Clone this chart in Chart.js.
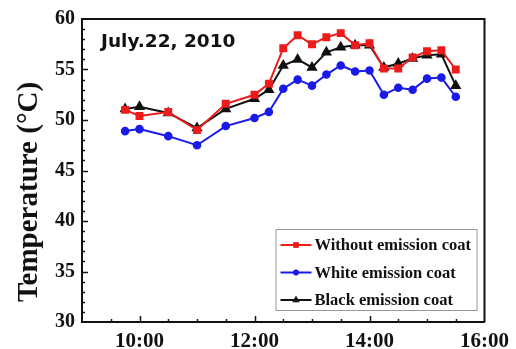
<!DOCTYPE html>
<html>
<head>
<meta charset="utf-8">
<script src="https://cdn.jsdelivr.net/npm/chart.js@4.4.1/dist/chart.umd.min.js"></script>
<style>
  html, body { margin: 0; padding: 0; background: #fff; }
  #wrap { width: 516px; height: 349px; }
</style>
</head>
<body>
<div id="wrap"><canvas id="myChart" width="516" height="349"></canvas></div>
<script>
// Datos (hora del dia, temperatura en grados C)
var times = ['9:45', '10:00', '10:30', '11:00', '11:30', '12:00', '12:15', '12:30', '12:45', '13:00',
             '13:15', '13:30', '13:45', '14:00', '14:15', '14:30', '14:45', '15:00', '15:15', '15:30'];
var withoutCoat = [51.0, 50.4, 50.8, 49.0, 51.6, 52.5, 53.6, 57.1, 58.4, 57.5,
                   58.2, 58.6, 57.4, 57.6, 55.1, 55.1, 56.2, 56.8, 56.9, 55.0];
var whiteCoat = [48.9, 49.1, 48.4, 47.5, 49.4, 50.2, 50.8, 53.1, 54.0, 53.4,
                 54.5, 55.4, 54.8, 54.9, 52.5, 53.2, 53.0, 54.1, 54.2, 52.3];
var blackCoat = [51.1, 51.3, 50.7, 49.2, 51.1, 52.1, 53.0, 55.4, 56.0, 55.2,
                 56.7, 57.2, 57.4, 57.4, 55.2, 55.6, 56.1, 56.4, 56.5, 53.4];
var seriesNames = ['Without emission coat', 'White emission coat', 'Black emission coat'];
var xTickLabels = ['10:00', '12:00', '14:00', '16:00'];
var yTickLabels = [30, 35, 40, 45, 50, 55, 60];

function toHours(t) {
    var p = t.split(':');
    return parseInt(p[0], 10) + parseInt(p[1], 10) / 60;
}
function hourLabel(v) {
    return Math.floor(v) + ':' + (v % 1 === 0 ? '00' : '30');
}
function toPoints(values) {
    return values.map(function (v, i) { return { x: toHours(times[i]), y: v }; });
}

var serif = '"Liberation Serif", "Times New Roman", serif';

// Marco, marcas interiores, leyenda y textos
var framePlugin = {
    id: 'frame',
    afterDraw: function (chart) {
        var c = chart.ctx, a = chart.chartArea;
        var xs = chart.scales.x, ys = chart.scales.y;
        c.save();
        c.strokeStyle = '#111';
        c.lineWidth = 2;
        c.beginPath();
        c.moveTo(a.left, a.top); c.lineTo(a.right, a.top); c.lineTo(a.right, a.bottom);
        c.stroke();

        c.lineWidth = 1.5;
        c.beginPath();
        xs.ticks.forEach(function (t) {
            var px = Math.round(xs.getPixelForValue(t.value)) + 0.5;
            var len = xTickLabels.indexOf(hourLabel(t.value)) >= 0 ? 6 : 3;
            if (t.value === xs.min || t.value === xs.max) return;
            c.moveTo(px, a.bottom); c.lineTo(px, a.bottom - len);
        });
        ys.ticks.forEach(function (t) {
            var py = Math.round(ys.getPixelForValue(t.value)) + 0.5;
            var len = yTickLabels.indexOf(t.value) >= 0 ? 6 : 3;
            if (t.value === ys.min || t.value === ys.max) return;
            c.moveTo(a.left, py); c.lineTo(a.left + len, py);
        });
        c.stroke();

        // titulo del eje y
        c.fillStyle = '#111';
        c.font = 'bold 29px ' + serif;
        c.textAlign = 'center';
        c.textBaseline = 'middle';
        c.translate(30, 192);
        c.rotate(-Math.PI / 2);
        c.fillText('Temperature (\u00B0C)', 0, 0);
        c.setTransform(1, 0, 0, 1, 0, 0);

        // fecha
        c.font = 'bold 18.5px "DejaVu Sans", Verdana, sans-serif';
        c.textAlign = 'left';
        c.textBaseline = 'alphabetic';
        c.fillText('July.22, 2010', a.left + 19, a.top + 27.5);

        // leyenda
        var bx = a.right - 209, by = a.bottom - 93, bw = 201, bh = 81;
        c.strokeStyle = '#999';
        c.lineWidth = 1;
        c.strokeRect(bx + 0.5, by + 0.5, bw, bh);
        chart.data.datasets.forEach(function (ds, i) {
            var ry = by + 16 + i * 27.5;
            c.strokeStyle = ds.borderColor;
            c.lineWidth = 2;
            c.beginPath(); c.moveTo(bx + 5, ry); c.lineTo(bx + 36, ry); c.stroke();
            c.fillStyle = ds.pointBackgroundColor;
            c.lineWidth = 1;
            Chart.helpers.drawPoint(c, {
                pointStyle: ds.pointStyle, radius: ds.pointRadius * 0.8, borderWidth: 1, rotation: 0
            }, bx + 20.5, ry);
            c.fillStyle = '#111';
            c.font = 'bold 16.5px ' + serif;
            c.textBaseline = 'middle';
            c.fillText(ds.label, bx + 39, ry + 1);
        });
        c.restore();
    }
};

var ctx = document.getElementById('myChart').getContext('2d');
var myChart = new Chart(ctx, {
    type: 'line',
    data: {
        datasets: [{
            label: seriesNames[0],
            data: toPoints(withoutCoat),
            borderColor: '#ec1c1c',
            backgroundColor: '#ec1c1c',
            pointBackgroundColor: '#ec1c1c',
            pointStyle: 'rect',
            pointRadius: 4.2,
            borderWidth: 2
        }, {
            label: seriesNames[1],
            data: toPoints(whiteCoat),
            borderColor: '#1a1ae8',
            backgroundColor: '#1a1ae8',
            pointBackgroundColor: '#1a1ae8',
            pointStyle: 'circle',
            pointRadius: 3.3,
            borderWidth: 2
        }, {
            label: seriesNames[2],
            data: toPoints(blackCoat),
            borderColor: '#111111',
            backgroundColor: '#111111',
            pointBackgroundColor: '#111111',
            pointStyle: 'triangle',
            pointRadius: 4.5,
            borderWidth: 2
        }]
    },
    options: {
        responsive: false,
        animation: false,
        devicePixelRatio: 1,
        layout: { padding: { top: 19, right: 31, left: 0, bottom: 0 } },
        plugins: { legend: { display: false }, tooltip: { enabled: false } },
        scales: {
            x: {
                type: 'linear',
                min: 9, max: 16,
                grid: { display: false, drawTicks: false },
                border: { display: true, color: '#111', width: 2 },
                ticks: {
                    stepSize: 0.5, autoSkip: false, maxTicksLimit: 100,
                    maxRotation: 0, minRotation: 0, padding: 7, color: '#111',
                    font: { family: serif, size: 21, weight: 'bold' },
                    callback: function (v) {
                        var l = hourLabel(v);
                        return xTickLabels.indexOf(l) >= 0 ? l : '';
                    }
                },
                afterFit: function (s) { s.height = 27; }
            },
            y: {
                min: 30, max: 60,
                grid: { display: false, drawTicks: false },
                border: { display: true, color: '#111', width: 2 },
                ticks: {
                    stepSize: 1, autoSkip: false, maxTicksLimit: 100,
                    padding: 7, color: '#111',
                    font: { family: serif, size: 20, weight: 'bold' },
                    callback: function (v) { return yTickLabels.indexOf(v) >= 0 ? v : ''; }
                },
                afterFit: function (s) { s.width = 82; }
            }
        }
    },
    plugins: [framePlugin]
});
</script>
</body>
</html>
